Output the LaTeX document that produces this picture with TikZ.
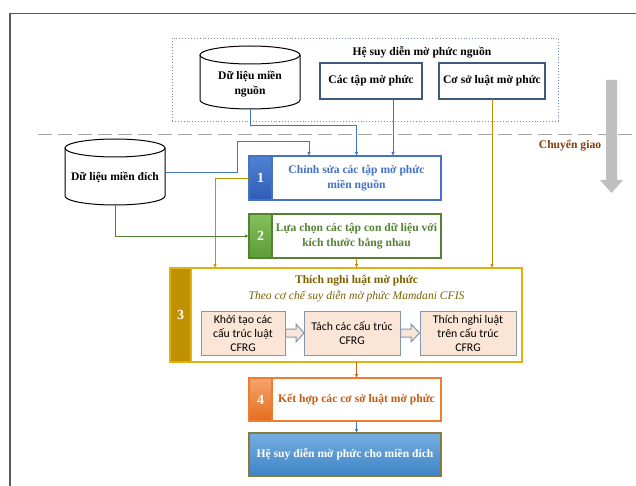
\documentclass[tikz,border=0pt]{standalone}
\usepackage{fontspec}
\setmainfont{Liberation Serif}
\newfontfamily\calib{Carlito}
\usetikzlibrary{arrows.meta}
\definecolor{cblue}{HTML}{4472C4}
\definecolor{cgreen}{HTML}{548235}
\definecolor{cgoldline}{HTML}{E2B10C}
\definecolor{cgold}{HTML}{BF9000}
\definecolor{ctitle}{HTML}{7F6000}
\definecolor{corange}{HTML}{ED7D31}
\definecolor{corangetext}{HTML}{C55A11}
\definecolor{cpeach}{HTML}{FBE5D6}
\definecolor{cinner}{HTML}{8497B0}
\definecolor{cslate}{HTML}{3E5A7E}
\definecolor{cdotted}{HTML}{6F8FB5}
\definecolor{cbrown}{HTML}{843C0C}
\definecolor{cgrayarrow}{HTML}{BFBFBF}
\definecolor{cdash}{HTML}{A6A6A6}
\definecolor{cframe}{HTML}{595959}
\definecolor{cfinalborder}{HTML}{857A3F}
\definecolor{cfinaltop}{HTML}{76AEE0}
\definecolor{cfinalbot}{HTML}{3D84C6}
\definecolor{cn1top}{HTML}{5083D3}
\definecolor{cn1bot}{HTML}{2F5DB5}
\definecolor{cn2top}{HTML}{84C05C}
\definecolor{cn2bot}{HTML}{5E9C36}
\definecolor{cn4top}{HTML}{F5A46E}
\definecolor{cn4bot}{HTML}{E66C1C}
\begin{document}
\begin{tikzpicture}[x=1pt,y=-1pt,
  every node/.style={inner sep=0pt, outer sep=0pt},
  txt/.style={font=\fontsize{11.6}{15.5}\selectfont\bfseries, align=center},
  calibtxt/.style={font=\calib\fontsize{11.8}{14}\selectfont, align=center},
  mainbox/.style={draw, line width=1.2pt, fill=white},
  numbox/.style={line width=1.2pt, text=white, font=\fontsize{14}{15}\selectfont\bfseries},
  smallbox/.style={draw=cslate, line width=1.3pt, fill=white},
  inner/.style={draw=cinner, line width=1pt, fill=cpeach},
  cyl/.style={draw=black, line width=1pt, fill=white},
  con/.style={line width=0.9pt, -{Latex[length=4pt,width=3.5pt]}},
]
\useasboundingbox (0,0) rectangle (636,486);
\fill[white] (0,0) rectangle (636,486);
% outer frame
\draw[cframe, line width=1.6pt] (10,486) -- (10,13.5) -- (636,13.5);

% source system
\node[draw=cdotted, dotted, line width=0.9pt, minimum width=386pt, minimum height=83pt] (srcsys) at (365,79.5) {};
\node[txt] (srctitle) at (422,52) {Hệ suy diễn mờ phức nguồn};
\node[smallbox, minimum width=102pt, minimum height=36pt] (ct) at (371,81) {};
\node[txt] (cttxt) at (ct) {Các tập mờ phức};
\node[smallbox, minimum width=106pt, minimum height=36pt] (cs) at (492,81) {};
\node[txt] (cstxt) at (cs) {Cơ sở luật mờ phức};

% source cylinder
\filldraw[cyl] (200,55) -- (200,100) arc[start angle=180, end angle=0, x radius=50, y radius=9] -- (300,55);
\filldraw[cyl] (250,55) ellipse [x radius=50, y radius=9];
\node[txt] (srcdb) at (250,84) {Dữ liệu miền\\nguồn};
\coordinate (srcbot) at (250,109);

% target cylinder
\filldraw[cyl] (65,148) -- (65,196) arc[start angle=180, end angle=0, x radius=50, y radius=9] -- (165,148);
\filldraw[cyl] (115,148) ellipse [x radius=50, y radius=9];
\node[txt] (tgtdb) at (115,177) {Dữ liệu miền đích};
\coordinate (tgtright) at (165,172);
\coordinate (tgtbot) at (115,205);

% transfer line
\draw[cdash, line width=1pt, dash pattern=on 14pt off 6pt] (38,135) -- (636,135);
\node[font=\fontsize{11.6}{12}\selectfont\bfseries, text=cbrown] (transfer) at (570,146) {Chuyển giao};
\fill[cgrayarrow] (606,80) -- (617,80) -- (617,180) -- (623,180) -- (611.5,193) -- (600,180) -- (606,180) -- cycle;

% box 1
\node[mainbox, draw=cblue, minimum width=192pt, minimum height=44pt] (b1) at (345,178) {};
\node[numbox, draw=cblue, top color=cn1top, bottom color=cn1bot, minimum width=23pt, minimum height=44pt, anchor=north west] (n1) at (b1.north west) {1};
\node[txt, text=cblue] (t1) at (356.5,178) {Chỉnh sửa các tập mờ phức\\miền nguồn};

% box 2
\node[mainbox, draw=cgreen, minimum width=192pt, minimum height=44pt] (b2) at (345,236) {};
\node[numbox, draw=cgreen, top color=cn2top, bottom color=cn2bot, minimum width=23pt, minimum height=44pt, anchor=north west] (n2) at (b2.north west) {2};
\node[txt, text=cgreen] (t2) at (356.5,236) {Lựa chọn các tập con dữ liệu với\\kích thước bằng nhau};

% box 3
\node[mainbox, draw=cgoldline, line width=1.5pt, minimum width=352pt, minimum height=94pt] (b3) at (346,315) {};
\node[numbox, draw=cgoldline, line width=1.5pt, fill=cgold, minimum width=21pt, minimum height=94pt, anchor=north west] (n3) at (b3.north west) {3};
\node[txt, text=ctitle] (t3) at (356.5,281) {Thích nghi luật mờ phức};
\node[font=\fontsize{11.6}{12}\selectfont\itshape, text=ctitle] (t3b) at (356.5,296) {Theo cơ chế suy diễn mờ phức Mamdani CFIS};
\node[inner, minimum width=84pt, minimum height=44pt] (ia) at (243,333) {};
\node[calibtxt] (iat) at (ia) {Khởi tạo các\\cấu trúc luật\\CFRG};
\node[inner, minimum width=96pt, minimum height=44pt] (ib) at (352,333) {};
\node[calibtxt] (ibt) at (ib) {Tách các cấu trúc\\CFRG};
\node[inner, minimum width=96pt, minimum height=44pt] (ic) at (468,333) {};
\node[calibtxt] (ict) at (ic) {Thích nghi luật\\trên cấu trúc\\CFRG};
\filldraw[inner] (285.5,329) -- (296,329) -- (296,324) -- (304,333) -- (296,342) -- (296,337) -- (285.5,337) -- cycle;
\filldraw[inner] (400.5,329) -- (411,329) -- (411,324) -- (419.5,333) -- (411,342) -- (411,337) -- (400.5,337) -- cycle;

% box 4
\node[mainbox, draw=corange, minimum width=192pt, minimum height=43pt] (b4) at (345,399.5) {};
\node[numbox, draw=corange, top color=cn4top, bottom color=cn4bot, minimum width=23pt, minimum height=43pt, anchor=north west] (n4) at (b4.north west) {4};
\node[txt, text=corangetext] (t4) at (356.5,399.5) {Kết hợp các cơ sở luật mờ phức};

% final box
\node[draw=cfinalborder, line width=1.5pt, top color=cfinaltop, bottom color=cfinalbot, minimum width=192pt, minimum height=43pt] (b5) at (345,454.5) {};
\node[txt, text=white] (t5) at (b5) {Hệ suy diễn mờ phức cho miền đích};

% connectors
\draw[con, cblue] (srcbot) -- ++(0,16) -| (t1 |- b1.north);
\draw[con, cblue] ([xshift=22pt]ct.south) -- ([xshift=22pt]ct.south |- b1.north);
\draw[con, cblue] (tgtright) -- (237,172) -- (237,141) -| ([xshift=-36pt]b1.north);
\draw[con, cgold] (b1.west) -| ([xshift=-131pt]b3.north);
\draw[con, cgold] (t2 |- b2.south) -- (t2 |- b3.north);
\draw[con, cgold] (cs.south) -- (cs.south |- b3.north);
\draw[con, cgreen] (tgtbot) |- (b2.west);
\draw[con, corangetext!80!orange] (t4 |- b3.south) -- (t4 |- b4.north);
\draw[con, cblue] (t4 |- b4.south) -- (t4 |- b5.north);
\end{tikzpicture}
\end{document}
